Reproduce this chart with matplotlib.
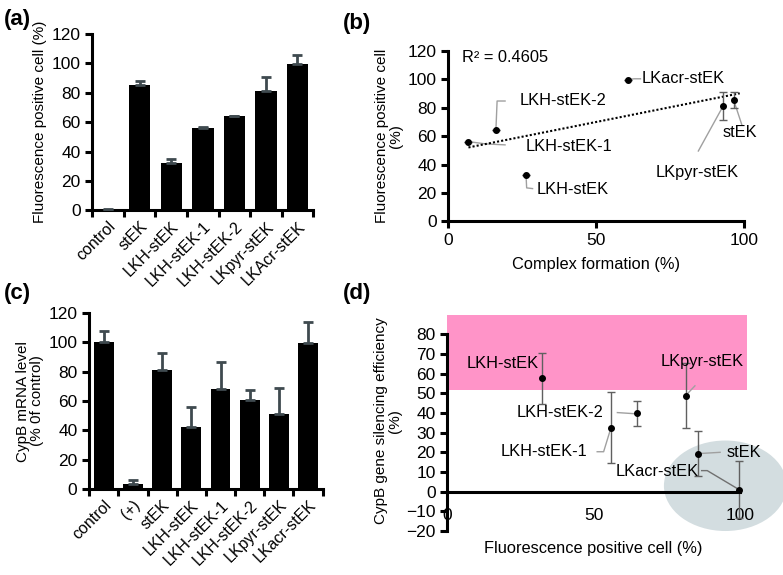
import numpy as np
import matplotlib
matplotlib.use("Agg")
import matplotlib.pyplot as plt
from matplotlib.patches import Rectangle, Ellipse

plt.rcParams['font.family'] = ['Liberation Sans', 'DejaVu Sans']
plt.rcParams['font.size'] = 11

# (a) fluorescence positive cells
cats_a = ["control", "stEK", "LKH-stEK", "LKH-stEK-1", "LKH-stEK-2", "LKpyr-stEK", "LKAcr-stEK"]
fluo = [0.5, 85.5, 32.5, 56, 64, 81, 99.4]
fluo_err = [0.3, 2.2, 2.3, 1.0, 0.5, 9.7, 6.0]

# (b) complex formation vs fluorescence
names_b = ["stEK", "LKH-stEK", "LKH-stEK-1", "LKH-stEK-2", "LKpyr-stEK", "LKacr-stEK"]
complex_x = [96.6, 26.3, 6.8, 16.1, 93.0, 60.7]
fluo_y = [85.5, 32.5, 56.0, 64.5, 81.0, 99.5]
fluo_y_err = [5.5, 0, 0, 0, 10.0, 0]
r2_text = "R² = 0.4605"

# (c) CypB mRNA level
cats_c = ["control", "(+)", "stEK", "LKH-stEK", "LKH-stEK-1", "LKH-stEK-2", "LKpyr-stEK", "LKacr-stEK"]
mrna = [100.3, 3.4, 81, 42.5, 67.9, 60.7, 51.2, 99.2]
mrna_err = [7.4, 2.9, 12, 13.2, 18.8, 6.7, 17.4, 14.7]

# (d) fluorescence vs silencing efficiency
names_d = ["LKH-stEK", "LKH-stEK-1", "LKH-stEK-2", "LKpyr-stEK", "stEK", "LKacr-stEK"]
fluo_d = [32.2, 55.9, 64.7, 81.4, 85.5, 99.6]
silencing = [57.6, 32.5, 39.8, 48.8, 19.3, 1.0]
silencing_err = [13, 18, 6.5, 16.5, 11.5, 14.5]

fig = plt.figure(figsize=(7.83, 5.75), dpi=100)

AX_LW = 2.2
ERR_DARK = "#3f4a4f"
LEADER = "#a0a0a0"
TICK_FS = 12.5
LAB_FS = 11
TXT_FS = 11.8


def style_axes(ax):
    for s in ["top", "right"]:
        ax.spines[s].set_visible(False)
    for s in ["left", "bottom"]:
        ax.spines[s].set_linewidth(AX_LW)
    ax.tick_params(width=AX_LW, length=5, direction="out", labelsize=TICK_FS, colors="black")


def bar_panel(ax, cats, vals, errs):
    n = len(cats)
    x = np.arange(n)
    ax.bar(x, vals, width=0.68, color="black", zorder=2)
    ax.errorbar(x, vals, yerr=[np.zeros(n), errs], fmt="none", ecolor=ERR_DARK,
                elinewidth=2, capsize=3.5, capthick=2, zorder=3)
    ax.set_xlim(-0.5, n - 0.5)
    ax.set_ylim(0, 120)
    ax.set_yticks(range(0, 121, 20))
    ax.set_xticks(np.arange(n + 1) - 0.5)
    ax.set_xticklabels([])
    ax.set_xticks(x, minor=True)
    ax.set_xticklabels(cats, minor=True, rotation=45, ha="right", rotation_mode="anchor",
                       fontsize=11.5)
    ax.tick_params(axis="x", which="minor", length=0, pad=6)
    style_axes(ax)


# ---- (a)
ax_a = fig.add_axes([0.118, 0.634, 0.282, 0.307])
bar_panel(ax_a, cats_a, fluo, fluo_err)
ax_a.set_ylabel("Fluorescence positive cell (%)", fontsize=LAB_FS, labelpad=3)

# ---- (c)
ax_c = fig.add_axes([0.114, 0.149, 0.298, 0.307])
bar_panel(ax_c, cats_c, mrna, mrna_err)
ax_c.set_ylabel("CypB mRNA level\n(% 0f control)", fontsize=LAB_FS, labelpad=3, linespacing=1.0)

# ---- (b)
ax_b = fig.add_axes([0.5726, 0.6148, 0.3774, 0.2972])
ax_b.errorbar(complex_x, fluo_y, yerr=fluo_y_err, fmt="o", color="black", ms=4,
              ecolor="#606060", elinewidth=1, capsize=3, capthick=1, zorder=3)
coef = np.polyfit(complex_x, fluo_y, 1)
tx = np.linspace(min(complex_x), max(complex_x) + 2, 50)
ax_b.plot(tx, np.polyval(coef, tx), color="black", ls=(0, (1, 1)), lw=1.5, zorder=2)
ax_b.set_xlim(0, 100)
ax_b.set_ylim(0, 120)
ax_b.set_xticks([0, 50, 100])
ax_b.set_yticks(range(0, 121, 20))
style_axes(ax_b)
ax_b.set_xlabel("Complex formation (%)", fontsize=TXT_FS, labelpad=6)
ax_b.set_ylabel("Fluorescence positive cell\n(%)", fontsize=LAB_FS, linespacing=1.0, labelpad=3)
ax_b.text(4.5, 115, r2_text, fontsize=TXT_FS, va="center")

labels_b = {
    # name: (text x, text y, ha, leader path)
    "LKacr-stEK": (65.4, 100.3, "left", [(60.7, 99.5), (62.8, 100.2), (65.0, 100.2)]),
    "LKH-stEK-2": (24.2, 84.9, "left", [(16.1, 64.5), (16.5, 84.6), (19.2, 84.6)]),
    "LKH-stEK-1": (26.0, 53.0, "left", [(7.2, 56.0), (12.5, 54.5), (19.2, 53.8)]),
    "LKH-stEK": (29.9, 22.8, "left", [(26.3, 32.0), (26.5, 23.6), (28.5, 23.1)]),
    "stEK": (98.5, 62.5, "center", [(96.6, 85.0), (99.3, 68.0)]),
    "LKpyr-stEK": (84.1, 34.2, "center", [(92.7, 80.0), (84.6, 49.5)]),
}
for name, (lx, ly, ha, path) in labels_b.items():
    px, py = zip(*path)
    ax_b.plot(px, py, color=LEADER, lw=1, zorder=1, clip_on=False)
    ax_b.text(lx, ly, name, fontsize=TXT_FS, va="center", ha=ha)

# ---- (d)
ax_d = fig.add_axes([0.5713, 0.0765, 0.3738, 0.3832])
ax_d.set_xlim(0, 100)
ax_d.set_ylim(-20, 92)
ax_d.add_patch(Rectangle((0, 51.7), 102.5, 38.1, facecolor="#ff94c8", edgecolor="none",
                         zorder=0, clip_on=False))
ax_d.add_patch(Ellipse((95, 3), 42, 46, facecolor="#d3dde0", edgecolor="none",
                       zorder=0, clip_on=False))
ax_d.errorbar(fluo_d, silencing, yerr=silencing_err, fmt="o", color="black", ms=4,
              ecolor="#606060", elinewidth=1, capsize=3, capthick=1, zorder=3, clip_on=False)
ax_d.set_xticks([0, 50, 100])
ax_d.set_yticks(range(-20, 81, 10))
style_axes(ax_d)
ax_d.spines["bottom"].set_position(("data", 0))
ax_d.spines["left"].set_bounds(-20, 80)
ax_d.spines["bottom"].set_zorder(2)
ax_d.tick_params(axis="x", length=0, pad=12)
ax_d.set_xlabel("Fluorescence positive cell (%)", fontsize=TXT_FS)
ax_d.xaxis.set_label_coords(0.5, -0.045)
ax_d.set_ylabel("CypB gene silencing efficiency\n(%)", fontsize=LAB_FS, linespacing=1.0, labelpad=3)

labels_d = {
    "LKH-stEK": (6.6, 65.3, "left", None),
    "LKpyr-stEK": (72.9, 66.1, "left", [(81.4, 48.8), (84.6, 53.8)]),
    "LKH-stEK-2": (53.3, 40.2, "right", [(58.1, 40.2), (64.2, 39.6)]),
    "LKH-stEK-1": (47.7, 20.3, "right", [(51.2, 20.3), (53.4, 20.3), (55.5, 30.5)]),
    "stEK": (95.5, 19.8, "left", [(86.4, 19.4), (93.2, 20.0)]),
    "LKacr-stEK": (85.9, 10.2, "right", [(86.9, 10.7), (88.8, 10.7), (99.5, 1.2)]),
}
for name, (lx, ly, ha, path) in labels_d.items():
    if path is not None:
        px, py = zip(*path)
        ax_d.plot(px, py, color=LEADER if name != "LKacr-stEK" else "#707070",
                  lw=1, zorder=1, clip_on=False)
    ax_d.text(lx, ly, name, fontsize=TXT_FS, va="center", ha=ha, zorder=4)

# panel letters
for lab, x, y in [("(a)", 0.005, 0.985), ("(b)", 0.438, 0.977),
                  ("(c)", 0.005, 0.508), ("(d)", 0.438, 0.508)]:
    fig.text(x, y, lab, fontsize=16, fontweight="bold", va="top", ha="left")

fig.savefig("out.png", dpi=100)
